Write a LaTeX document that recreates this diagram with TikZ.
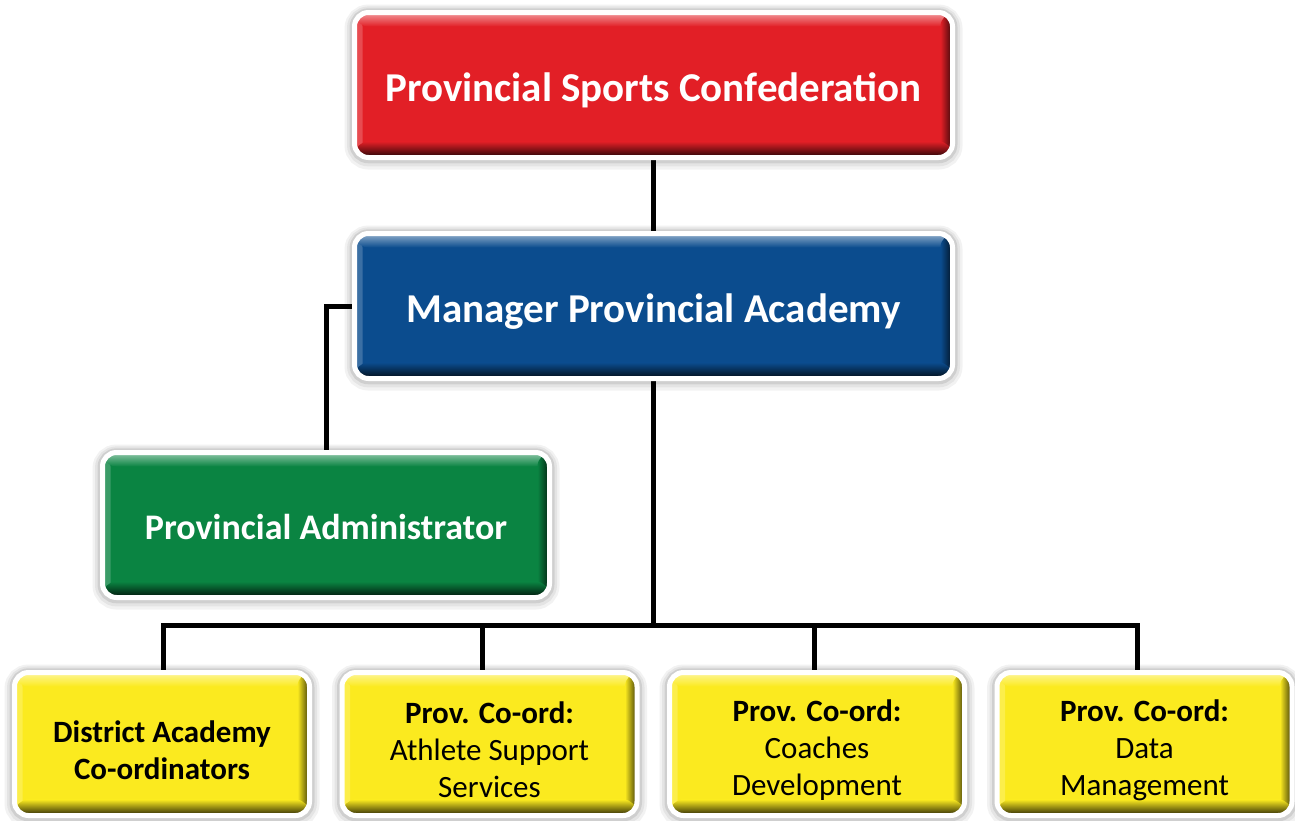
\documentclass[tikz,border=0pt]{standalone}
\usepackage{fontspec}
\setmainfont{Carlito}
\usetikzlibrary{backgrounds}

\definecolor{confred}{HTML}{E21F26}
\definecolor{mgrblue}{HTML}{0B4C8E}
\definecolor{admgreen}{HTML}{0A8442}
\definecolor{coordyellow}{HTML}{FBEA1F}
\newcommand\topstrut{\rule{0pt}{17pt}}

\begin{document}
\begin{tikzpicture}[x=0.5pt,y=-0.5pt,node distance=163.75pt,
  box/.style={rounded corners=7pt,fill=#1,draw=white,line width=2.5pt,align=center,
    preaction={draw=black,draw opacity=0.05,line width=10pt,transform canvas={yshift=-1pt}},
    preaction={draw=black,draw opacity=0.06,line width=7.5pt,transform canvas={yshift=-0.7pt}},
    preaction={draw=black,draw opacity=0.09,line width=5pt,transform canvas={yshift=-0.4pt}},
    path picture={
      \shade[left color=#1!80!white,right color=#1] (path picture bounding box.south west) rectangle ([xshift=4pt]path picture bounding box.north west);
      \shade[top color=#1!45!white,bottom color=#1] (path picture bounding box.north west) rectangle ([yshift=-7pt]path picture bounding box.north east);
      \shade[left color=#1,right color=#1!25!black] ([xshift=-6pt]path picture bounding box.south east) rectangle (path picture bounding box.north east);
      \shade[top color=#1,bottom color=#1!15!black] ([yshift=8pt]path picture bounding box.south west) rectangle (path picture bounding box.south east);
    }},
  bigbox/.style={box=#1,minimum width=299pt,minimum height=72.5pt,text=white,text height=20pt,
    font=\fontsize{20.5}{24}\selectfont\bfseries},
  admbox/.style={box=admgreen,minimum width=223.5pt,minimum height=72.5pt,text=white,text height=14.5pt,
    font=\fontsize{18}{22}\selectfont\bfseries},
  coordbox/.style={box=coordyellow,minimum width=147.5pt,minimum height=71.5pt,text=black,
    font=\fontsize{15.5}{18.5}\selectfont},
  link/.style={line width=2.5pt,draw=black}]

\useasboundingbox (0,0) rectangle (1295,820);

\node[bigbox=confred]   (conf)  at (653.5,85)   {Provincial Sports Confederation};
\node[bigbox=mgrblue]   (mgr)   at (653.5,306)  {Manager Provincial Academy};
\node[admbox]           (adm)   at (326,525)    {Provincial Administrator};
\node[coordbox]         (dist)  at (162,744)    {\topstrut\textbf{District Academy}\\\textbf{Co-ordinators}};
\node[coordbox]         (ath)   [right of=dist] {\topstrut\textbf{Prov. Co-ord:}\\Athlete Support\\Services};
\node[coordbox]         (coach) [right of=ath]  {\topstrut\textbf{Prov. Co-ord:}\\Coaches\\Development};
\node[coordbox]         (data)  [right of=coach]{\topstrut\textbf{Prov. Co-ord:}\\Data\\Management};

\coordinate (bus) at (653.5,625);

\begin{scope}[on background layer]
  \path[link] (conf) edge (mgr)
              (mgr.west) edge[-, to path={-| (\tikztotarget)}] (adm.north)
              (mgr) edge (bus);
  \draw[link] ([xshift=0.5pt]dist.north) |- (bus) -| ([xshift=-3.5pt]data.north);
  \draw[link] ([xshift=-3.75pt]ath.north) -- ([xshift=-3.75pt]ath.north |- bus);
  \draw[link] ([xshift=-1.25pt]coach.north) -- ([xshift=-1.25pt]coach.north |- bus);
\end{scope}

\end{tikzpicture}
\end{document}
